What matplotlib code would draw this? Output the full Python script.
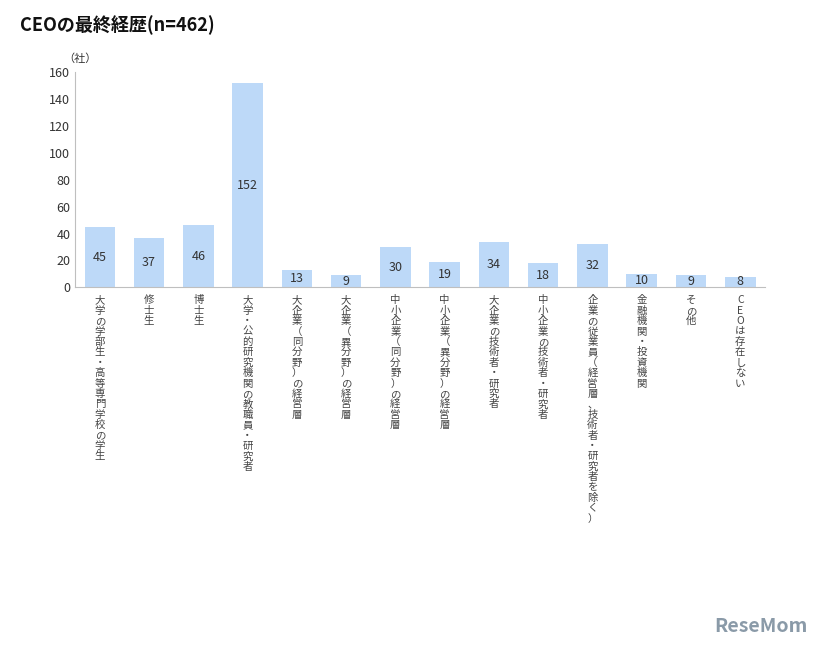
import matplotlib.pyplot as plt

plt.rcParams['font.family'] = ['Noto Sans CJK JP', 'DejaVu Sans']

categories = ['大学の学部生・高等専門学校の学生', '修士生', '博士生', '大学・公的研究機関の教職員・研究者',
              '大企業（同分野）の経営層', '大企業（異分野）の経営層', '中小企業（同分野）の経営層',
              '中小企業（異分野）の経営層', '大企業の技術者・研究者', '中小企業の技術者・研究者',
              '企業の従業員（経営層、技術者・研究者を除く）', '金融機関・投資機関', 'その他', 'CEOは存在しない']
values = [45, 37, 46, 152, 13, 9, 30, 19, 34, 18, 32, 10, 9, 8]

fig = plt.figure(figsize=(8.26, 6.5), dpi=100)
ax = fig.add_axes([0.091, 0.558, 0.835, 0.331])
x = range(len(values))
ax.bar(x, values, width=0.62, color='#BDD9F8')
for i, v in enumerate(values):
    ax.text(i, v / 2, str(v), ha='center', va='center', fontsize=9, color='#333333')
ax.set_xlim(-0.5, len(values) - 0.5)
ax.set_ylim(0, 160)
ax.set_yticks(range(0, 161, 20))
ax.tick_params(axis='y', length=0, labelsize=9, colors='#333333')
ax.set_xticks([])
for s in ['top', 'right']:
    ax.spines[s].set_visible(False)
ax.spines['left'].set_color('#BFBFBF')
ax.spines['bottom'].set_color('#BFBFBF')

for i, c in enumerate(categories):
    ax.text(i, -6, '\n'.join(c), ha='center', va='top', fontsize=7.5, color='#444444',
            linespacing=1.05, transform=ax.transData, clip_on=False)

fig.text(0.077, 0.905, '（社）', fontsize=8, color='#333333')
fig.text(0.024, 0.952, 'CEOの最終経歴(n=462)', fontsize=13, fontweight='bold', color='#111111')
fig.text(0.865, 0.028, 'ReseMom', fontsize=14, fontweight='bold', color='#8A9AA8')

fig.savefig('out.png', dpi=100)
